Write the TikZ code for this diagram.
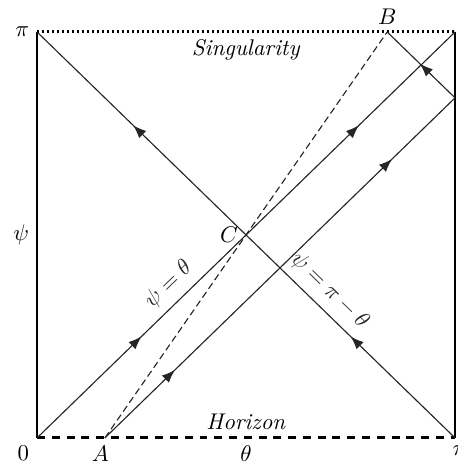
\documentclass[tikz,border=0pt]{standalone}
\usepackage{amsmath,amssymb}
\usetikzlibrary{arrows.meta,decorations.markings}

\begin{document}
\begin{tikzpicture}[
  x=58.55pt,y=56.86pt,
  ray/.style={black!85, line width=0.5pt},
  wall/.style={black, line width=0.9pt},
  tipat/.style={postaction={decorate,decoration={markings,mark=at position #1 with {\arrow{Latex[length=5.8pt,width=4.4pt]}}}}},
  lbl/.style={inner sep=3.3pt}
]
\useasboundingbox (-16.3pt,-10.6pt) rectangle (185.2pt,192.7pt);
\coordinate (O) at (0,0);
\coordinate (BR) at (pi,0);
\coordinate (TL) at (0,pi);
\coordinate (TR) at (pi,pi);
\coordinate (A) at (0.51,0);
\coordinate (R) at (pi,{pi-0.51});
\coordinate (B) at ({pi-0.51},pi);
\coordinate (C) at ({pi/2},{pi/2});
\coordinate (L) at (0,{pi/2});
\coordinate (M) at ({pi/2},0);
\coordinate (N) at ({pi/2},pi);
\draw[wall] (O) -- (TL); \draw[wall] (BR) -- (TR);
\draw[black, line width=1.3pt, dash pattern=on 1pt off 1.2pt] (TL) -- (TR);
\draw[black, line width=1.3pt, dash pattern=on 3.5pt off 3pt] (O) -- (BR);
\draw[ray, tipat=0.25, tipat=0.77] (O) -- node[pos=0.345, sloped, above, lbl] {$\psi=\theta$} (TR);
\draw[ray, tipat=0.25, tipat=0.77] (BR) -- node[pos=0.33, sloped, above, lbl] {$\psi=\pi-\theta$} (TL);
\draw[ray, tipat=0.2, tipat=0.82] (A) -- (R);
\draw[ray, tipat=0.52] (R) -- (B);
\draw[ray, dash pattern=on 3pt off 1.7pt] (A) -- (B);
\node[left, lbl] (pitop) at (TL) {$\pi$};
\node[below left, lbl] (zero) at (O) {$0$};
\node[below, lbl, xshift=2pt] (piright) at (BR) {$\pi$};
\node[below, lbl, xshift=-2pt] (Alab) at (A) {$A$};
\node[above, lbl] (Blab) at (B) {$B$};
\node[left, lbl] (Clab) at (C) {$C$};
\node[left, lbl] (psilab) at (L) {$\psi$};
\node[below, lbl] (thetalab) at (M) {$\theta$};
\node[below, lbl] (sing) at (N) {\textit{Singularity}};
\node[above, lbl] (hor) at (M) {\textit{Horizon}};
\end{tikzpicture}
\end{document}
